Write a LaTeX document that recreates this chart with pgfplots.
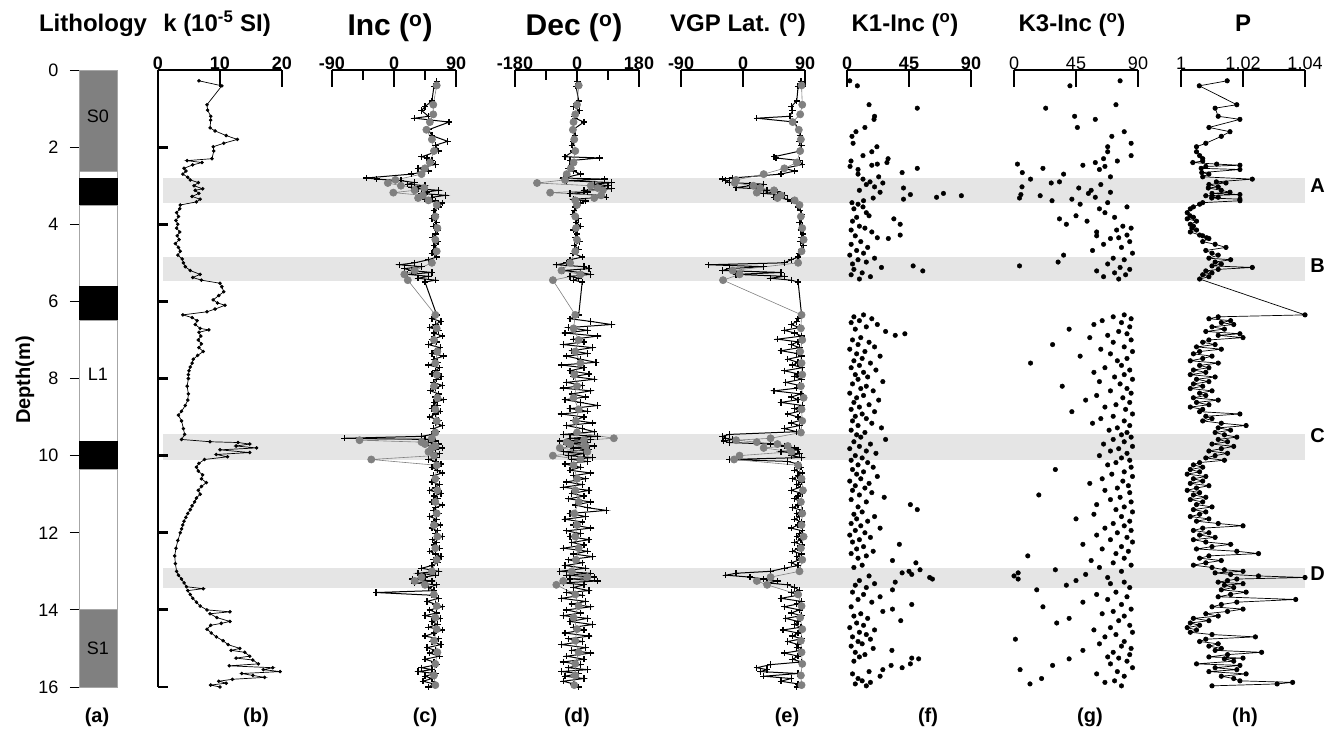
\documentclass[border=0pt]{standalone}
\usepackage{pgfplots}
\pgfplotsset{compat=1.18}
\usepackage{pgfplotstable}
\usepackage{fontspec}
\setmainfont{Liberation Sans}

\definecolor{band}{RGB}{229,229,229}
\definecolor{gcirc}{RGB}{128,128,128}
\definecolor{lith}{RGB}{128,128,128}

\newcommand{\ttl}{\bfseries\fontsize{24}{27}\selectfont}
\newcommand{\bigttl}{\bfseries\fontsize{30}{34}\selectfont}
\newcommand{\tkb}{\bfseries\fontsize{18}{20}\selectfont}
\newcommand{\tkr}{\fontsize{18}{20}\selectfont}
\newcommand{\lab}{\bfseries\fontsize{20}{22}\selectfont}

\pgfplotstableread{
depth k
0.28 6.6
0.41 10.3
0.90 7.9
1.04 8.0
1.20 8.5
1.30 8.5
1.50 8.4
1.58 9.2
1.70 11.0
1.80 12.8
1.90 10.6
1.99 8.9
2.10 9.0
2.30 8.7
2.35 4.7
2.40 7.1
2.46 5.6
2.55 4.2
2.62 4.5
2.70 4.0
2.78 4.8
2.85 5.2
2.92 6.5
3.00 5.8
3.08 7.2
3.12 6.0
3.20 6.6
3.28 5.5
3.35 6.8
3.42 6.2
3.50 3.6
3.60 3.5
3.70 3.0
3.80 3.3
3.90 2.9
4.00 3.2
4.10 3.0
4.20 3.5
4.30 3.1
4.40 3.4
4.50 2.8
4.60 3.3
4.70 3.6
4.80 3.2
4.90 3.9
5.00 4.1
5.10 4.4
5.20 5.2
5.30 6.8
5.38 5.6
5.45 7.0
5.53 10.0
5.62 10.3
5.75 10.6
5.85 9.8
5.96 8.9
6.04 9.6
6.10 10.8
6.20 9.2
6.27 7.9
6.35 4.0
6.42 5.5
6.50 6.3
6.60 6.0
6.70 6.8
6.74 8.2
6.80 6.6
6.90 6.9
7.00 6.5
7.10 7.0
7.20 6.6
7.30 7.3
7.40 6.4
7.50 5.7
7.60 5.5
7.70 5.2
7.80 5.0
7.90 4.9
8.00 4.9
8.20 4.7
8.40 4.9
8.56 4.8
8.70 4.4
8.85 3.8
8.95 3.3
9.10 3.8
9.30 4.1
9.45 4.3
9.58 3.8
9.64 8.4
9.66 12.9
9.70 14.8
9.75 12.6
9.80 15.9
9.85 10.0
9.92 14.8
9.97 9.4
10.03 11.2
10.10 7.5
10.20 6.6
10.30 6.2
10.40 6.5
10.50 7.2
10.60 7.0
10.70 7.8
10.80 7.0
10.90 6.5
11.00 6.8
11.10 6.2
11.20 5.9
11.30 5.5
11.40 5.2
11.50 4.8
11.60 4.5
11.70 4.2
11.80 4.0
11.90 3.8
12.00 3.6
12.20 3.2
12.40 2.9
12.60 2.7
12.80 2.8
13.00 3.0
13.10 3.3
13.20 3.8
13.30 4.2
13.40 4.6
13.45 7.3
13.50 4.8
13.60 5.2
13.70 5.6
13.80 6.2
13.90 6.8
14.00 7.9
14.05 11.6
14.10 8.4
14.20 9.5
14.30 11.6
14.35 10.2
14.40 8.5
14.50 7.9
14.60 8.6
14.70 9.4
14.80 10.5
14.90 11.3
15.00 13.2
15.05 11.8
15.10 14.0
15.20 14.8
15.25 12.6
15.30 15.3
15.40 16.2
15.45 11.5
15.50 18.5
15.55 17.0
15.60 19.7
15.65 13.5
15.70 15.3
15.75 17.2
15.80 12.0
15.85 9.8
15.90 11.0
15.95 8.5
16.00 10.0
}\ktab

\pgfplotstableread{
depth inc dec vgp
0.30 62 2 84
0.42 58 -3 80
0.80 55 5 78
0.95 45 -10 70
1.05 40 8 72
1.20 50 -8 68
1.25 30 -5 20
1.35 80 20 75
1.55 50 -12 80
1.70 55 -5 83
1.85 78 -10 82
1.95 60 -15 85
2.10 65 -10 83
2.25 40 -35 45
2.28 48 65 48
2.35 55 -20 82
2.45 60 -15 86
2.55 35 -25 60
2.62 50 -10 75
2.70 25 10 55
2.80 -40 -40 -15
2.83 -25 80 -30
2.87 10 -30 -25
2.92 30 100 -20
2.96 20 50 30
3.00 45 90 10
3.05 25 60 -10
3.08 35 100 20
3.12 65 20 35
3.16 48 30 50
3.20 40 -20 30
3.25 75 70 60
3.30 55 85 45
3.35 45 -10 65
3.40 60 25 70
3.45 70 10 78
3.55 65 -5 80
3.65 58 -8 83
3.75 60 -12 85
3.85 55 5 84
3.95 62 -3 82
4.05 57 10 86
4.15 63 -10 84
4.25 60 0 87
4.35 56 -5 85
4.45 64 8 83
4.55 58 -8 88
4.65 60 5 85
4.75 55 -12 82
4.85 62 15 80
4.92 50 -20 70
5.00 30 -30 60
5.05 8 -60 -50
5.10 40 20 30
5.15 15 35 -20
5.20 25 -40 -30
5.25 55 10 55
5.30 20 40 -10
5.35 50 -20 60
5.40 35 5 40
5.45 60 -10 70
5.50 45 15 80
6.35 62 5 85
6.45 55 -20 80
6.52 68 40 78
6.60 60 100 70
6.68 52 -25 82
6.75 65 30 60
6.82 58 -35 75
6.90 70 60 85
6.98 55 -10 50
7.05 62 20 80
7.12 50 -40 70
7.20 67 45 82
7.28 60 -15 55
7.35 55 30 78
7.42 72 -30 85
7.50 58 10 65
7.58 63 55 80
7.65 50 -45 72
7.72 66 20 86
7.80 60 -20 60
7.88 55 35 80
7.95 68 -10 75
8.02 62 50 85
8.10 57 -30 62
8.18 70 15 82
8.25 60 -40 78
8.32 53 40 45
8.40 65 -15 84
8.48 60 25 70
8.55 72 -35 80
8.62 58 10 55
8.70 63 60 86
8.78 55 -20 75
8.85 67 30 82
8.92 60 -45 65
9.00 52 20 80
9.08 65 -10 85
9.15 60 45 70
9.22 70 -30 82
9.30 57 15 60
9.38 62 50 78
9.45 55 -40 -20
9.50 40 60 -30
9.55 -72 -20 -25
9.58 45 40 -15
9.62 60 -50 -28
9.66 50 30 -20
9.70 65 -30 40
9.75 55 50 60
9.80 70 -10 75
9.85 60 35 80
9.90 52 -40 55
9.95 66 20 82
10.00 58 -25 70
10.05 62 45 85
10.10 50 -15 -20
10.15 60 30 65
10.22 68 -35 80
10.30 55 10 84
10.38 63 -20 75
10.45 70 40 86
10.52 57 -10 80
10.60 62 25 72
10.68 55 -30 85
10.75 66 15 78
10.82 60 -40 83
10.90 52 35 70
10.98 68 -15 86
11.05 58 20 80
11.12 63 -25 75
11.20 55 40 84
11.28 70 -5 80
11.35 60 30 72
11.42 57 85 86
11.50 65 -20 78
11.58 52 25 82
11.65 62 -35 75
11.72 58 15 85
11.80 67 -10 80
11.88 55 40 70
11.95 63 -30 86
12.02 60 10 82
12.10 70 -20 78
12.18 56 35 84
12.25 62 -15 75
12.32 58 20 86
12.40 66 -40 80
12.48 52 30 72
12.55 60 -10 85
12.62 68 45 78
12.70 57 -25 82
12.78 63 15 70
12.85 55 -35 80
12.92 40 25 60
13.00 65 -50 40
13.05 35 40 -10
13.10 60 -30 -25
13.15 45 50 10
13.20 27 -20 30
13.25 55 60 50
13.30 30 -40 35
13.35 62 20 65
13.42 50 -10 75
13.50 58 35 82
13.55 -26 -30 70
13.62 55 15 80
13.70 65 -45 55
13.78 48 25 85
13.85 60 -15 78
13.92 70 40 60
14.00 52 -30 82
14.08 62 10 70
14.15 45 -40 85
14.22 67 30 62
14.30 55 -20 80
14.38 63 45 75
14.45 50 -10 84
14.52 70 20 58
14.60 58 -35 80
14.68 45 35 72
14.75 65 -25 85
14.82 55 15 65
14.90 68 -45 80
14.98 48 25 78
15.05 60 -15 84
15.12 52 40 60
15.20 66 -30 80
15.28 45 20 72
15.35 58 -40 85
15.42 62 10 40
15.50 40 -25 20
15.55 55 30 35
15.60 35 -45 25
15.65 60 5 80
15.72 45 -35 30
15.78 55 20 70
15.85 42 -40 55
15.92 58 -10 80
16.00 50 5 78
}\plustab

\pgfplotstableread{
depth inc dec vgp
0.40 62 5 85
0.90 57 0 86
1.15 57 -5 83
1.35 52 -10 72
1.55 47 -12 81
1.80 55 -8 84
2.10 58 -5 83
2.40 52 -10 78
2.55 45 -18 60
2.70 40 -30 30
2.85 2 -35 -10
2.93 -9 -116 -12
3.00 10 40 15
3.06 44 60 25
3.12 30 75 45
3.18 -1 -78 20
3.25 42 70 55
3.32 35 50 50
3.38 50 -5 75
3.50 62 0 82
3.80 60 -5 84
4.10 63 -3 86
4.40 60 0 88
4.70 62 -5 85
5.00 55 -20 80
5.20 30 -45 -15
5.30 15 10 -5
5.45 20 -70 -29
6.35 60 -5 85
6.70 62 -10 84
7.00 58 5 86
7.30 63 -5 83
7.60 60 10 85
7.90 62 -8 86
8.20 58 0 84
8.50 63 -10 88
8.80 60 5 85
9.10 62 -3 86
9.40 60 0 84
9.55 55 107 40
9.60 -50 20 -10
9.65 40 -30 20
9.70 45 -20 50
9.75 60 25 65
9.80 55 -50 30
9.90 50 30 70
10.00 58 -70 -5
10.10 -33 10 -13
10.25 62 -10 80
10.60 60 0 85
10.90 63 -5 87
11.20 60 5 84
11.50 62 -8 86
11.80 58 0 85
12.10 63 -5 88
12.40 60 5 84
12.70 62 -3 86
13.00 55 -15 82
13.15 40 30 40
13.25 30 -40 20
13.35 45 -60 35
13.60 58 -5 80
13.90 62 5 85
14.20 60 -10 83
14.50 62 0 86
14.80 58 -5 84
15.10 63 5 85
15.40 60 -5 86
15.70 58 -5 84
15.95 60 -8 85
}\graytab

\pgfplotstableread{
depth k1 k3 P
0.28 2 77 1.0149
0.41 7.5 40.6 1.0059
0.90 16 74 1.018
0.99 51 23 1.011
1.20 20 44 1.012
1.28 19.6 59 1.019
1.49 13 46 1.009
1.60 6.5 80 1.0158
1.72 3.6 71 1.013
1.90 4.4 85 1.008
1.99 21.7 68 1.005
2.12 18 68 1.005
2.22 11.6 85 1.006
2.30 29.8 65 1.007
2.36 2.9 75 1.007
2.40 29 59 1.0038
2.44 22 2.5 1.0115
2.47 18 50 1.019
2.50 2.2 66 1.008
2.55 51 21 1.0065
2.58 8 62 1.019
2.66 40 6 1.0067
2.70 8 36 1.009
2.77 23 70 1.007
2.83 11.6 12 1.023
2.90 16.7 33 1.0114
2.93 26 27 1.0145
2.97 14 63 1.009
3.03 20 5.8 1.012
3.06 41 47 1.0088
3.12 9 56 1.013
3.17 24 70 1.0158
3.20 70 54 1.010
3.23 46 5 1.019
3.26 83 19 1.008
3.30 65 59 1.012
3.32 19 4 1.0099
3.35 41 42 1.019
3.39 12 27.6 1.019
3.44 3.6 68 1.007
3.48 8 48 1.006
3.55 11.6 82 1.004
3.60 5 62 1.003
3.70 14 66 1.002
3.78 16 45 1.0029
3.82 7 73 1.004
3.86 34 33 1.002
3.92 4 53 1.005
4.00 38.6 38 1.003
4.05 9 79 1.004
4.10 13 85 1.0035
4.15 3 74.5 1.005
4.20 18 60 1.003
4.28 38.6 82 1.006
4.30 6 60 1.007
4.35 22 76 1.0083
4.37 30 70 1.009
4.45 10 84 1.007
4.52 3 65 1.011
4.60 15 78 1.0145
4.68 7 57 1.008
4.75 12 86 1.010
4.80 2 36 1.012
4.88 20 72 1.009
4.92 8 80 1.016
4.98 14 32 1.011
5.03 4 68 1.013
5.08 48 4 1.010
5.12 25 77 1.023
5.17 5 84 1.012
5.21 55 60 1.008
5.26 11 73 1.010
5.31 3 81 1.007
5.36 17 65 1.009
5.42 9 76 1.006
6.35 12 80 1.040
6.40 5 72 1.012
6.45 18 85 1.009
6.50 9 64 1.016
6.55 3 78 1.013
6.60 22 58 1.017
6.66 14 84 1.010
6.72 6 40 1.014
6.78 28 76 1.008
6.84 42 82 1.019
6.88 35 68 1.012
6.94 10 55 1.020
7.00 4 85 1.009
7.06 16 72 1.007
7.12 8 28 1.011
7.18 20 80 1.005
7.24 2 63 1.013
7.30 13 86 1.006
7.36 7 70 1.004
7.42 24 48 1.010
7.48 11 82 1.007
7.54 5 75 1.003
7.60 17 12 1.012
7.66 9 78 1.006
7.72 3 66 1.009
7.78 21 84 1.004
7.84 12 58 1.008
7.90 6 80 1.003
7.96 15 73 1.011
8.02 8 86 1.005
8.08 26 62 1.009
8.14 4 77 1.004
8.20 14 35 1.007
8.26 10 82 1.003
8.32 19 70 1.010
8.38 2 85 1.006
8.44 12 60 1.008
8.50 7 79 1.004
8.56 23 52 1.012
8.62 5 84 1.005
8.68 16 74 1.009
8.74 9 66 1.003
8.80 3 81 1.007
8.86 20 42 1.006
8.92 11 86 1.019
8.98 6 72 1.008
9.04 14 63 1.010
9.10 4 80 1.007
9.16 18 57 1.013
9.22 8 84 1.021
9.28 25 75 1.012
9.34 3 69 1.016
9.40 13 82 1.011
9.46 7 78 1.014
9.52 10 85 1.018
9.58 28 72 1.012
9.64 5 80 1.015
9.70 17 65 1.010
9.76 9 86 1.017
9.82 2 76 1.013
9.88 14 70 1.009
9.94 21 82 1.015
10.00 6 62 1.011
10.06 11 78 1.008
10.12 3 84 1.014
10.18 15 74 1.006
10.24 8 68 1.004
10.30 19 85 1.007
10.36 4 30 1.003
10.42 12 80 1.006
10.48 7 71 1.002
10.54 22 86 1.008
10.60 10 64 1.004
10.66 2 79 1.007
10.72 16 55 1.003
10.78 6 83 1.009
10.84 13 75 1.005
10.90 4 66 1.002
10.96 18 84 1.006
11.02 9 18 1.004
11.08 27 77 1.008
11.14 3 70 1.003
11.20 14 85 1.007
11.27 46 60 1.005
11.33 8 80 1.010
11.40 51 74 1.004
11.46 11 86 1.008
11.52 5 58 1.006
11.58 20 78 1.003
11.64 7 45 1.009
11.70 15 84 1.005
11.76 3 72 1.012
11.82 10 80 1.020
11.88 24 66 1.007
11.94 6 85 1.004
12.00 13 75 1.009
12.06 2 60 1.006
12.12 17 82 1.011
12.18 9 70 1.004
12.24 4 86 1.008
12.30 38 50 1.016
12.36 12 78 1.010
12.42 7 64 1.005
12.48 19 83 1.018
12.54 3 74 1.025
12.60 14 10 1.009
12.66 8 80 1.006
12.72 33 56 1.013
12.78 50 72 1.008
12.84 11 85 1.004
12.90 5 62 1.010
12.96 53 30 1.014
13.00 45 78 1.020
13.04 40 3 1.011
13.08 47 52 1.016
13.12 16 0 1.025
13.16 60 68 1.040
13.20 62 3 1.018
13.24 9 45 1.015
13.28 35 80 1.012
13.32 20 70 1.020
13.36 6 38 1.014
13.42 14 84 1.017
13.48 33 16.5 1.013
13.54 4 74 1.021
13.60 12 60 1.016
13.66 24 82 1.012
13.73 8 68 1.037
13.80 18 50 1.018
13.86 47 78 1.013
13.92 3 21 1.010
13.98 33 85 1.020
14.04 26 72 1.015
14.10 10 64 1.008
14.16 5 80 1.012
14.22 15 40 1.004
14.28 39 76 1.009
14.34 7 31 1.003
14.40 12 84 1.006
14.46 2 70 1.002
14.52 20 58 1.005
14.58 9 86 1.003
14.64 14 74 1.010
14.70 4 66 1.024
14.76 17 1 1.008
14.82 8 80 1.006
14.88 11 62 1.012
14.94 3 78 1.009
15.00 19 85 1.013
15.05 32.6 50 1.011
15.10 6 72 1.026
15.16 13 84 1.015
15.22 9 68 1.009
15.25 47 76 1.020
15.27 52 40 1.014
15.33 5 82 1.017
15.40 46 70 1.005
15.44 32 28 1.019
15.50 40 86 1.011
15.55 26 4.4 1.018
15.60 16 75 1.009
15.66 4 60 1.021
15.72 24 80 1.013
15.78 8 20 1.017
15.84 11 73 1.019
15.88 17 66 1.036
15.92 6 11.6 1.031
15.97 14 78 1.010
}\amstab

\pgfplotsset{
  panel/.style={scale only axis, width=124pt, height=617pt,
    ymin=0, ymax=16, y dir=reverse, clip=false, anchor=north west,
    axis x line=top, hide y axis,
    x axis line style={-, line width=2.8pt},
    tick align=inside, major tick length=17pt, minor tick length=10pt,
    xtick style={line width=2.8pt, black},
    xticklabel style={font=\tkb, yshift=-3pt},
  },
}

\begin{document}
\begin{tikzpicture}
\useasboundingbox (0,0) rectangle (1341pt,732pt);

% bands
\begin{axis}[scale only axis, width=1142pt, height=617pt, at={(163pt,662pt)}, anchor=north west,
  xmin=0, xmax=1, ymin=0, ymax=16, y dir=reverse, hide axis, clip=false]
\addplot[fill=band, draw=none] coordinates {(0,2.80) (1,2.80) (1,3.45) (0,3.45)} -- cycle;
\addplot[fill=band, draw=none] coordinates {(0,4.86) (1,4.86) (1,5.46) (0,5.46)} -- cycle;
\addplot[fill=band, draw=none] coordinates {(0,9.44) (1,9.44) (1,10.11) (0,10.11)} -- cycle;
\addplot[fill=band, draw=none] coordinates {(0,12.91) (1,12.91) (1,13.43) (0,13.43)} -- cycle;
\node[font=\lab] at (axis cs:1.011,3.00) {A};
\node[font=\lab] at (axis cs:1.011,5.06) {B};
\node[font=\lab] at (axis cs:1.011,9.47) {C};
\node[font=\lab] at (axis cs:1.011,13.05) {D};
\end{axis}

% (a) lithology
\begin{axis}[scale only axis, width=38pt, height=617pt, at={(79pt,662pt)}, anchor=north west,
  xmin=0, xmax=1, ymin=0, ymax=16, y dir=reverse, clip=false,
  hide x axis, axis y line=left, y axis line style={draw=none},
  ytick={0,2,4,6,8,10,12,14,16}, yticklabels={0,2,4,6,8,10,12,14,16},
  tick align=outside, major tick length=9pt,
  ytick style={line width=0.8pt, black},
  yticklabel style={font=\tkr, xshift=-8pt}]
\addplot[fill=lith, draw=gray!70, line width=0.8pt] coordinates {(0,0) (1,0) (1,2.62) (0,2.62)} -- cycle;
\addplot[fill=white, draw=gray!70, line width=0.8pt] coordinates {(0,2.62) (1,2.62) (1,2.82) (0,2.82)} -- cycle;
\addplot[fill=black, draw=black, line width=0.8pt] coordinates {(0,2.82) (1,2.82) (1,3.50) (0,3.50)} -- cycle;
\addplot[fill=white, draw=gray!70, line width=0.8pt] coordinates {(0,3.50) (1,3.50) (1,5.62) (0,5.62)} -- cycle;
\addplot[fill=black, draw=black, line width=0.8pt] coordinates {(0,5.62) (1,5.62) (1,6.50) (0,6.50)} -- cycle;
\addplot[fill=white, draw=gray!70, line width=0.8pt] coordinates {(0,6.50) (1,6.50) (1,9.62) (0,9.62)} -- cycle;
\addplot[fill=black, draw=black, line width=0.8pt] coordinates {(0,9.62) (1,9.62) (1,10.36) (0,10.36)} -- cycle;
\addplot[fill=white, draw=gray!70, line width=0.8pt] coordinates {(0,10.36) (1,10.36) (1,14.0) (0,14.0)} -- cycle;
\addplot[fill=lith, draw=gray!70, line width=0.8pt] coordinates {(0,14.0) (1,14.0) (1,16.0) (0,16.0)} -- cycle;
\node[font=\tkr] at (axis cs:0.5,1.2) {S0};
\node[font=\tkr] at (axis cs:0.5,7.9) {L1};
\node[font=\tkr] at (axis cs:0.5,15.0) {S1};
\end{axis}

% (b) k -- y axis overlay
\begin{axis}[scale only axis, width=124pt, height=617pt, at={(158pt,662pt)}, anchor=north west,
  ymin=0, ymax=16, y dir=reverse, xmin=0, xmax=20, hide x axis,
  axis y line=left, y axis line style={-, line width=2.8pt},
  ytick={0,2,...,16}, yticklabels={}, tick align=inside, major tick length=10pt,
  ytick style={line width=2.8pt, black}]
\end{axis}
\begin{axis}[panel, at={(158pt,662pt)}, xmin=0, xmax=20, xtick={0,10,20}, xticklabels={0,10,20}]
\addplot[black, line width=0.7pt, mark=*, mark size=1.4pt] table[x=k, y=depth] {\ktab};
\end{axis}

% (c) Inc
\begin{axis}[panel, at={(332pt,662pt)}, xmin=-90, xmax=90, xtick={-90,0,90}, xticklabels={-90,0,90}, minor xtick={-45,45}]
\addplot[black, line width=1pt, mark=+, mark size=3.2pt, mark options={line width=1.3pt}] table[x=inc, y=depth] {\plustab};
\addplot[gcirc, line width=0.6pt, mark=*, mark size=3.6pt, mark options={fill=gcirc, draw=gcirc}] table[x=inc, y=depth] {\graytab};
\end{axis}

% (d) Dec
\begin{axis}[panel, at={(515pt,662pt)}, xmin=-180, xmax=180, xtick={-180,0,180}, xticklabels={-180,0,180}, minor xtick={-90,90}]
\addplot[black, line width=1pt, mark=+, mark size=3.2pt, mark options={line width=1.3pt}] table[x=dec, y=depth] {\plustab};
\addplot[gcirc, line width=0.6pt, mark=*, mark size=3.6pt, mark options={fill=gcirc, draw=gcirc}] table[x=dec, y=depth] {\graytab};
\end{axis}

% (e) VGP
\begin{axis}[panel, at={(681pt,662pt)}, xmin=-90, xmax=90, xtick={-90,0,90}, xticklabels={-90,0,90}]
\addplot[black, line width=1pt, mark=+, mark size=3.2pt, mark options={line width=1.3pt}] table[x=vgp, y=depth] {\plustab};
\addplot[gcirc, line width=0.6pt, mark=*, mark size=3.6pt, mark options={fill=gcirc, draw=gcirc}] table[x=vgp, y=depth] {\graytab};
\end{axis}

% (f) K1
\begin{axis}[panel, at={(847pt,662pt)}, xmin=0, xmax=90, xtick={0,45,90}, xticklabels={0,45,90}]
\addplot[only marks, mark=*, mark size=2.3pt, black] table[x=k1, y=depth] {\amstab};
\end{axis}

% (g) K3
\begin{axis}[panel, at={(1014pt,662pt)}, xmin=0, xmax=90, xtick={0,45,90}, xticklabels={0,45,90}, xticklabel style={font=\tkr}]
\addplot[only marks, mark=*, mark size=2.3pt, black] table[x=k3, y=depth] {\amstab};
\end{axis}

% (h) P
\begin{axis}[panel, at={(1181pt,662pt)}, xmin=1, xmax=1.04, xtick={1,1.02,1.04}, xticklabels={1,1.02,1.04}, xticklabel style={font=\tkr}]
\addplot[black, line width=0.7pt, mark=*, mark size=2.2pt] table[x=P, y=depth] {\amstab};
\end{axis}

% titles
\node[font=\ttl, anchor=base] at (93pt,700pt) {Lithology};
\node[font=\ttl, anchor=base] at (217pt,700pt) {k (10\textsuperscript{-5} SI)};
\node[font=\bigttl, anchor=base] at (390pt,696pt) {Inc (\textsuperscript{o})};
\node[font=\bigttl, anchor=base] at (574pt,696pt) {Dec (\textsuperscript{o})};
\node[font=\ttl, anchor=base] at (738pt,700pt) {VGP Lat. (\textsuperscript{o})};
\node[font=\ttl, anchor=base] at (905pt,700pt) {K1-Inc (\textsuperscript{o})};
\node[font=\ttl, anchor=base] at (1072pt,700pt) {K3-Inc (\textsuperscript{o})};
\node[font=\ttl, anchor=base] at (1243pt,700pt) {P};

\node[font=\lab, rotate=90] at (25pt,352pt) {Depth(m)};

\node[font=\lab] at (97pt,15pt) {(a)};
\node[font=\lab] at (256pt,15pt) {(b)};
\node[font=\lab] at (425pt,15pt) {(c)};
\node[font=\lab] at (577pt,15pt) {(d)};
\node[font=\lab] at (787pt,15pt) {(e)};
\node[font=\lab] at (928pt,15pt) {(f)};
\node[font=\lab] at (1090pt,15pt) {(g)};
\node[font=\lab] at (1245pt,15pt) {(h)};
\end{tikzpicture}
\end{document}
